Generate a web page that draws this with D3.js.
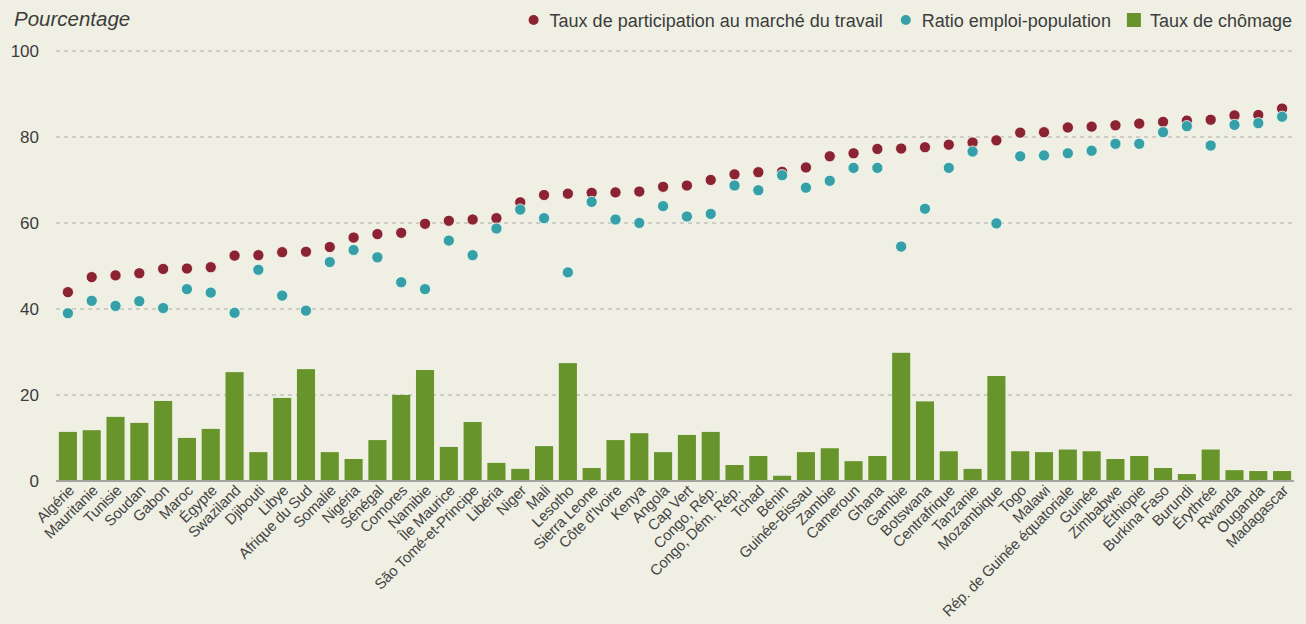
<!DOCTYPE html>
<html lang="fr">
<head>
<meta charset="utf-8">
<script src="https://cdn.jsdelivr.net/npm/d3@7"></script>
<style>
  html, body { margin: 0; padding: 0; background: #eff0e3; }
  svg { display: block; font-family: "Liberation Sans", Arial, sans-serif; }
  .tick-label { fill: #3c3c3c; font-size: 17px; }
  .country-label { fill: #444; font-size: 15px; letter-spacing: -0.2px; }
  .legend-text { fill: #3c3c3c; font-size: 18px; }
</style>
</head>
<body>
<svg id="chart"></svg>
<script>
// Configuration
const W = 1306, H = 624;
const plot = { left: 56, right: 1294, top: 50.5, bottom: 480.5 };

const colors = {
  participation: "#8b2332",
  employment: "#36a0a8",
  unemployment: "#67952b",
  grid: "#a9a9a5",
};

// Data
const countries = [
  "Algérie", "Mauritanie", "Tunisie", "Soudan", "Gabon", "Maroc", "Égypte", "Swaziland",
  "Djibouti", "Libye", "Afrique du Sud", "Somalie", "Nigéria", "Sénégal", "Comores", "Namibie",
  "Île Maurice", "São Tomé-et-Principe", "Libéria", "Niger", "Mali", "Lesotho", "Sierra Leone",
  "Côte d'Ivoire", "Kenya", "Angola", "Cap Vert", "Congo, Rép.", "Congo, Dém. Rép.", "Tchad",
  "Bénin", "Guinée-Bissau", "Zambie", "Cameroun", "Ghana", "Gambie", "Botswana", "Centrafrique",
  "Tanzanie", "Mozambique", "Togo", "Malawi", "Rép. de Guinée équatoriale", "Guinée", "Zimbabwe",
  "Éthiopie", "Burkina Faso", "Burundi", "Érythrée", "Rwanda", "Ouganda", "Madagascar"
];

// Taux de participation au marché du travail
const participation = [
  43.8, 47.3, 47.7, 48.2, 49.2, 49.3, 49.6, 52.3, 52.4, 53.1, 53.2, 54.3, 56.5, 57.3, 57.6, 59.7,
  60.4, 60.7, 61.0, 64.7, 66.4, 66.7, 66.9, 67.0, 67.2, 68.3, 68.6, 69.9, 71.2, 71.7, 71.8, 72.8,
  75.4, 76.1, 77.1, 77.2, 77.5, 78.1, 78.6, 79.1, 80.9, 81.0, 82.1, 82.3, 82.6, 83.0, 83.4, 83.7,
  83.9, 84.9, 85.0, 86.5
];

// Ratio emploi-population
const employment = [
  38.9, 41.8, 40.6, 41.7, 40.1, 44.5, 43.7, 39.0, 49.0, 43.0, 39.5, 50.8, 53.6, 51.9, 46.1, 44.5,
  55.8, 52.4, 58.6, 63.0, 61.0, 48.4, 64.8, 60.7, 59.9, 63.8, 61.4, 62.0, 68.6, 67.5, 71.0, 68.1,
  69.7, 72.7, 72.7, 54.4, 63.2, 72.7, 76.5, 59.8, 75.4, 75.6, 76.1, 76.7, 78.3, 78.3, 81.0, 82.4,
  77.9, 82.7, 83.1, 84.6
];

// Taux de chômage
const unemployment = [
  11.3, 11.7, 14.8, 13.4, 18.5, 9.9, 12.0, 25.2, 6.6, 19.2, 25.9, 6.6, 5.0, 9.4, 19.9, 25.7,
  7.8, 13.6, 4.1, 2.7, 8.0, 27.3, 2.9, 9.4, 11.0, 6.6, 10.6, 11.3, 3.6, 5.7, 1.1, 6.6,
  7.5, 4.5, 5.7, 29.7, 18.4, 6.8, 2.7, 24.3, 6.8, 6.6, 7.2, 6.8, 5.0, 5.7, 2.9, 1.5,
  7.2, 2.4, 2.2, 2.2
];

const yTicks = [0, 20, 40, 60, 80, 100];

const legendItems = [
  { label: "Taux de participation au marché du travail", color: colors.participation, shape: "circle" },
  { label: "Ratio emploi-population", color: colors.employment, shape: "circle" },
  { label: "Taux de chômage", color: colors.unemployment, shape: "square" },
];

const rows = countries.map((c, i) => ({
  country: c,
  participation: participation[i],
  employment: employment[i],
  unemployment: unemployment[i],
}));

const svg = d3.select("#chart").attr("width", W).attr("height", H);

svg.append("rect").attr("width", W).attr("height", H).attr("fill", "#eff0e3");

// Scales
const x = d3.scaleBand()
  .domain(countries)
  .range([plot.left, plot.right])
  .paddingInner(0.24)
  .paddingOuter(0.12);

const y = d3.scaleLinear().domain([0, 100]).range([plot.bottom, plot.top]);

// Grid lines (dashed) for every tick except 0
const grid = svg.append("g")
  .attr("transform", `translate(${plot.left},0)`)
  .call(d3.axisLeft(y).tickValues(yTicks.filter(d => d > 0)).tickSize(-(1292 - plot.left)).tickFormat(""));
grid.select(".domain").remove();
grid.selectAll("line")
  .attr("stroke", colors.grid)
  .attr("stroke-width", 1.2)
  .attr("stroke-dasharray", "4,4");

// Y axis labels
const yAxis = svg.append("g")
  .attr("transform", `translate(39,0)`)
  .call(d3.axisLeft(y).tickValues(yTicks).tickSize(0).tickPadding(0));
yAxis.select(".domain").remove();
yAxis.selectAll("text")
  .attr("class", "tick-label")
  .attr("font-family", null)
  .attr("font-size", null)
  .attr("fill", null)
  .attr("dy", "0.36em");

// Bars - Taux de chômage
svg.append("g")
  .selectAll("rect")
  .data(rows)
  .join("rect")
  .attr("x", d => x(d.country))
  .attr("width", x.bandwidth())
  .attr("y", d => y(d.unemployment))
  .attr("height", d => y(0) - y(d.unemployment))
  .attr("fill", colors.unemployment);

// Baseline
svg.append("line")
  .attr("x1", plot.left)
  .attr("x2", plot.right)
  .attr("y1", y(0) + 0.5)
  .attr("y2", y(0) + 0.5)
  .attr("stroke", "#a3a39f")
  .attr("stroke-width", 2);

// Dots: participation first, employment drawn on top
const cx = d => x(d) + x.bandwidth() / 2;

svg.append("g")
  .selectAll("circle")
  .data(rows)
  .join("circle")
  .attr("cx", d => cx(d.country))
  .attr("cy", d => y(d.participation))
  .attr("r", 5.6)
  .attr("fill", colors.participation)
  .attr("stroke", "#fbfbf5")
  .attr("stroke-width", 0.8);

svg.append("g")
  .selectAll("circle")
  .data(rows)
  .join("circle")
  .attr("cx", d => cx(d.country))
  .attr("cy", d => y(d.employment))
  .attr("r", 5.6)
  .attr("fill", colors.employment)
  .attr("stroke", "#fbfbf5")
  .attr("stroke-width", 0.8);

// Country labels, rotated
svg.append("g")
  .selectAll("text")
  .data(countries)
  .join("text")
  .attr("class", "country-label")
  .attr("text-anchor", "end")
  .attr("transform", d => `translate(${cx(d) + 7},${y(0) + 11}) rotate(-45)`)
  .text(d => d);

// Title
svg.append("text")
  .attr("x", 14)
  .attr("y", 26)
  .attr("font-size", 20.5)
  .attr("font-style", "italic")
  .attr("fill", "#3c3c3c")
  .text("Pourcentage");

// Legend, laid out right to left so it ends at the grid edge
const legend = svg.append("g");
let cursor = 1292;
legendItems.slice().reverse().forEach(item => {
  const t = legend.append("text")
    .attr("class", "legend-text")
    .attr("text-anchor", "end")
    .attr("x", cursor)
    .attr("y", 26.5)
    .text(item.label);
  const w = t.node().getComputedTextLength();
  const markX = cursor - w - 16;
  if (item.shape === "circle") {
    legend.append("circle")
      .attr("cx", markX)
      .attr("cy", 20)
      .attr("r", 5)
      .attr("fill", item.color);
  } else {
    legend.append("rect")
      .attr("x", markX - 7)
      .attr("y", 13)
      .attr("width", 14)
      .attr("height", 14)
      .attr("fill", item.color);
  }
  cursor = markX - 23;
});
</script>
</body>
</html>
